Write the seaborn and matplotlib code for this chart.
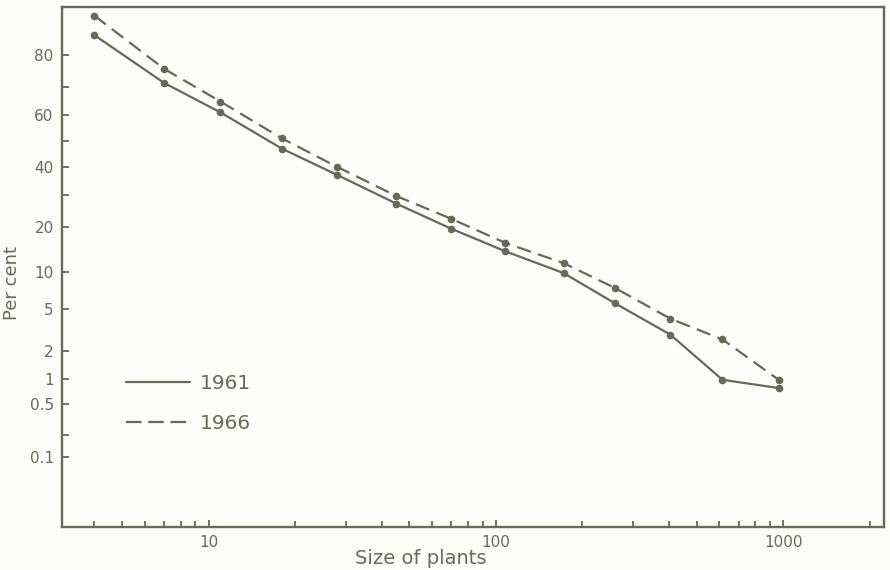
import numpy as np
import pandas as pd
import matplotlib
matplotlib.use("Agg")
import matplotlib.pyplot as plt
from matplotlib.lines import Line2D
from matplotlib.ticker import FixedLocator, NullLocator, NullFormatter, LogLocator
from statistics import NormalDist
import seaborn as sns

# Plant size classes (mid-points) and cumulative percentage of plants
sizes = [4, 7, 11, 18, 28, 45, 70, 108, 172, 260, 405, 615, 965]
pct_1961 = [85, 71.5, 61, 47, 37, 27, 19.5, 14, 9.8, 5.6, 2.9, 0.97, 0.78]
pct_1966 = [89, 76, 65, 51, 40, 29.5, 22.3, 15.9, 11.6, 7.5, 4.1, 2.6, 0.97]
years = ["1961", "1966"]

y_ticks = [80, 70, 60, 50, 40, 30, 20, 10, 5, 2, 1, 0.5, 0.2, 0.1]
y_tick_labels = ["80", "", "60", "", "40", "", "20", "10", "5", "2", "1", "0.5", "", "0.1"]
x_ticks = [10, 100, 1000]
x_tick_labels = ["10", "100", "1000"]

df = pd.DataFrame({
    "size": sizes * 2,
    "percent": pct_1961 + pct_1966,
    "year": [years[0]] * len(sizes) + [years[1]] * len(sizes),
})

INK = "#676a56"
PAPER = "#fdfdfa"

sns.set_style("ticks")
plt.rcParams["font.family"] = ["DejaVu Sans"]
plt.rcParams["text.color"] = INK
plt.rcParams["axes.labelcolor"] = INK
plt.rcParams["xtick.color"] = INK
plt.rcParams["ytick.color"] = INK

_nd = NormalDist()


def probit(p):
    q = np.clip(np.asarray(p, dtype=float) / 100.0, 1e-9, 1 - 1e-9)
    return np.vectorize(_nd.inv_cdf, otypes=[float])(q)


def inv_probit(z):
    return np.vectorize(_nd.cdf, otypes=[float])(np.asarray(z, dtype=float)) * 100.0


fig = plt.figure(figsize=(8.9, 5.7), dpi=100, facecolor=PAPER)
ax = fig.add_axes([62 / 890, 1 - 527 / 570, 822 / 890, 520 / 570])
ax.set_facecolor(PAPER)

sns.lineplot(
    data=df, x="size", y="percent", style="year",
    dashes={"1961": "", "1966": (6.5, 3.4)},
    markers={"1961": "o", "1966": "o"},
    markersize=5.5, markeredgewidth=0, color=INK, linewidth=1.6,
    legend=False, ax=ax,
)

ax.set_xscale("log")
ax.set_yscale("function", functions=(probit, inv_probit))
ax.set_xlim(3.09, 2244)
ax.set_ylim(0.0079, 90.5)

ax.yaxis.set_major_locator(FixedLocator(y_ticks))
ax.set_yticklabels(y_tick_labels)
ax.yaxis.set_minor_locator(NullLocator())

ax.xaxis.set_major_locator(FixedLocator(x_ticks))
ax.set_xticklabels(x_tick_labels)
ax.xaxis.set_minor_locator(LogLocator(base=10, subs=np.arange(2, 10)))
ax.xaxis.set_minor_formatter(NullFormatter())

ax.tick_params(axis="both", which="both", direction="in", width=1.3, colors=INK)
ax.tick_params(axis="both", which="major", length=5, labelsize=11)
ax.tick_params(axis="x", which="minor", length=4.5)
ax.tick_params(axis="y", which="major", pad=6)
ax.tick_params(axis="x", which="major", pad=6)

for sp in ax.spines.values():
    sp.set_color(INK)
    sp.set_linewidth(1.7)

ax.set_xlabel("Size of plants", fontsize=14)
ax.set_ylabel("Per cent", fontsize=13)
ax.xaxis.set_label_coords(0.437, -0.043)
ax.yaxis.set_label_coords(-0.05, 0.47)

handles = [
    Line2D([], [], color=INK, linewidth=1.6, linestyle="-"),
    Line2D([], [], color=INK, linewidth=1.6, linestyle=(0, (7, 3))),
]
ax.legend(
    handles, years, loc="center left", bbox_to_anchor=(0.056, 0.237),
    frameon=False, fontsize=14.5, handlelength=3.15, handletextpad=0.5,
    labelspacing=1.05, labelcolor=INK,
)

fig.savefig("out.png", dpi=100, facecolor=PAPER)
